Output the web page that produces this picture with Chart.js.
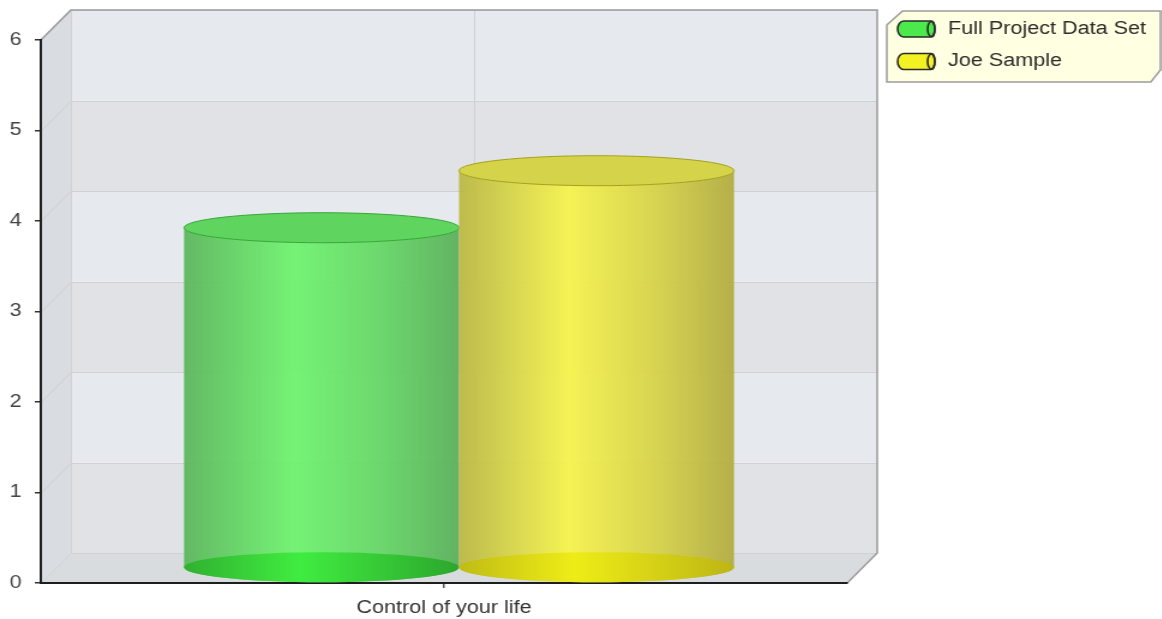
<!DOCTYPE html>
<html>
<head>
<meta charset="utf-8">
<title>Control of your life</title>
<script src="https://cdn.jsdelivr.net/npm/chart.js@4.4.1/dist/chart.umd.min.js"></script>
<style>
  html, body { margin: 0; padding: 0; background: #fff; overflow: hidden; }
  #wrap { width: 968px; height: 619px; transform: scaleX(1.2); transform-origin: 0 0; }
</style>
</head>
<body>
<div id="wrap"><canvas id="chart" width="968" height="619"></canvas></div>
<script>
// ---- data ----
const categories = ['Control of your life'];
const seriesNames = ['Full Project Data Set', 'Joe Sample'];
const fullProjectValues = [3.76];
const joeSampleValues = [4.39];
const yTicks = [0, 1, 2, 3, 4, 5, 6];

// ---- styling ----
const FONT = "'Liberation Sans', Arial, Helvetica, sans-serif";
const DX = 25;   // depth offset of the back wall, horizontal
const DY = 30;   // depth offset of the back wall, vertical
const ELLIPSE_RY = 15;

const palettes = [
  {
    base: ['rgba(44,176,44,0.92)', 'rgba(60,236,60,0.92)', 'rgba(40,166,40,0.92)'],
    body: ['rgba(90,182,90,0.93)', 'rgba(109,244,109,0.93)', 'rgba(100,214,100,0.93)', 'rgba(88,176,88,0.93)'],
    top: '#5fd45f', topLine: '#37a837', legend: '#4be94b'
  },
  {
    base: ['rgba(192,188,16,0.92)', 'rgba(238,236,18,0.92)', 'rgba(190,182,16,0.92)'],
    body: ['rgba(186,184,66,0.93)', 'rgba(246,244,74,0.93)', 'rgba(214,210,70,0.93)', 'rgba(178,172,62,0.93)'],
    top: '#d4d34a', topLine: '#a5a31c', legend: '#f2f222'
  }
];

// walls, floor and gridlines of the 3D box
const room3d = {
  id: 'room3d',
  beforeDraw(chart) {
    const { ctx, chartArea: a, scales: { x, y } } = chart;
    const L = a.left, R = a.right, T = a.top, B = a.bottom;
    ctx.save();
    // back wall, alternating bands
    for (let i = 0; i < yTicks.length - 1; i++) {
      const y0 = y.getPixelForValue(yTicks[i]) - DY;
      const y1 = y.getPixelForValue(yTicks[i + 1]) - DY;
      ctx.fillStyle = i % 2 ? '#e6e9ed' : '#e1e2e5';
      ctx.fillRect(L + DX, y1, R - L, y0 - y1);
    }
    // left side wall
    ctx.beginPath();
    ctx.moveTo(L, T); ctx.lineTo(L + DX, T - DY); ctx.lineTo(L + DX, B - DY); ctx.lineTo(L, B);
    ctx.closePath();
    ctx.fillStyle = '#d9dce0';
    ctx.fill();
    // floor
    ctx.beginPath();
    ctx.moveTo(L, B); ctx.lineTo(L + DX, B - DY); ctx.lineTo(R + DX, B - DY); ctx.lineTo(R, B);
    ctx.closePath();
    ctx.fillStyle = '#d9dcdf';
    ctx.fill();
    // gridlines across side wall and back wall
    ctx.lineWidth = 1;
    ctx.strokeStyle = '#cfd1d4';
    yTicks.forEach(v => {
      const py = Math.round(y.getPixelForValue(v)) + 0.5;
      ctx.beginPath();
      ctx.moveTo(L, py); ctx.lineTo(L + DX, py - DY); ctx.lineTo(R + DX, py - DY);
      ctx.stroke();
    });
    // vertical lines on back wall
    ctx.beginPath();
    ctx.moveTo(L + DX + 0.5, T - DY); ctx.lineTo(L + DX + 0.5, B - DY);
    x.ticks.forEach((t, i) => {
      const px = Math.round(x.getPixelForTick(i) + DX) + 0.5;
      ctx.moveTo(px, T - DY); ctx.lineTo(px, B - DY);
    });
    ctx.stroke();
    // outer outline
    ctx.strokeStyle = '#9b9b9b';
    ctx.lineWidth = 1.5;
    ctx.beginPath();
    ctx.moveTo(L, T); ctx.lineTo(L + DX, T - DY); ctx.lineTo(R + DX, T - DY);
    ctx.lineTo(R + DX, B - DY); ctx.lineTo(R, B);
    ctx.stroke();
    ctx.restore();
  }
};

function drawCylinder(ctx, cx, topY, baseY, rx, ry, pal) {
  const left = cx - rx, right = cx + rx;
  // body
  let g = ctx.createLinearGradient(left, 0, right, 0);
  g.addColorStop(0, pal.body[0]); g.addColorStop(0.4, pal.body[1]);
  g.addColorStop(0.72, pal.body[2]); g.addColorStop(1, pal.body[3]);
  ctx.beginPath();
  ctx.moveTo(left, topY);
  ctx.lineTo(left, baseY);
  ctx.ellipse(cx, baseY, rx, ry, 0, Math.PI, 0, true);
  ctx.lineTo(right, topY);
  ctx.ellipse(cx, topY, rx, ry, 0, 0, Math.PI, false);
  ctx.closePath();
  ctx.fillStyle = g;
  ctx.fill();
  // base ellipse, seen through the body
  g = ctx.createLinearGradient(left, 0, right, 0);
  g.addColorStop(0, pal.base[0]); g.addColorStop(0.42, pal.base[1]); g.addColorStop(1, pal.base[2]);
  ctx.beginPath();
  ctx.ellipse(cx, baseY, rx, ry, 0, 0, Math.PI * 2);
  ctx.fillStyle = g;
  ctx.fill();
  // top ellipse
  ctx.beginPath();
  ctx.ellipse(cx, topY, rx, ry, 0, 0, Math.PI * 2);
  ctx.fillStyle = pal.top;
  ctx.fill();
  ctx.lineWidth = 1;
  ctx.strokeStyle = pal.topLine;
  ctx.stroke();
}

// cylinders placed on the bar elements laid out by the category/linear scales
const cylinders = {
  id: 'cylinders',
  afterDatasetsDraw(chart) {
    const ctx = chart.ctx;
    ctx.save();
    chart.data.datasets.forEach((ds, di) => {
      const meta = chart.getDatasetMeta(di);
      meta.data.forEach(el => {
        const p = el.getProps(['x', 'y', 'base', 'width'], true);
        drawCylinder(ctx, p.x + DX / 2, p.y - DY / 2, p.base - DY / 2, p.width / 2, ELLIPSE_RY, palettes[di]);
      });
    });
    ctx.restore();
  }
};

// legend panel with chamfered corners and cylinder swatches
const legendPanel = {
  id: 'legendPanel',
  afterDraw(chart) {
    const ctx = chart.ctx;
    const l = 739, t = 11, r = 967, b = 82;
    ctx.save();
    ctx.beginPath();
    ctx.moveTo(l, t + 14); ctx.lineTo(l + 13, t); ctx.lineTo(r, t);
    ctx.lineTo(r, b - 12); ctx.lineTo(r - 8, b); ctx.lineTo(l, b);
    ctx.closePath();
    ctx.fillStyle = '#ffffe1';
    ctx.fill();
    ctx.lineWidth = 1.5;
    ctx.strokeStyle = '#9c9c9c';
    ctx.stroke();

    chart.data.datasets.forEach((ds, i) => {
      const cy = 29 + i * 32.5;
      const x0 = 748, x1 = 779, h = 16;
      ctx.beginPath();
      ctx.moveTo(x0 + 5, cy - h / 2);
      ctx.lineTo(x1 - 3, cy - h / 2);
      ctx.ellipse(x1 - 3, cy, 3, h / 2, 0, -Math.PI / 2, Math.PI / 2, false);
      ctx.lineTo(x0 + 5, cy + h / 2);
      ctx.ellipse(x0 + 5, cy, 5, h / 2, 0, Math.PI / 2, Math.PI * 1.5, false);
      ctx.closePath();
      ctx.fillStyle = palettes[i].legend;
      ctx.fill();
      ctx.lineWidth = 1.6;
      ctx.strokeStyle = '#2a2a2a';
      ctx.stroke();
      ctx.beginPath();
      ctx.ellipse(x1 - 3, cy, 3, h / 2 - 0.5, 0, 0, Math.PI * 2);
      ctx.stroke();

      ctx.fillStyle = '#2b2b2b';
      ctx.font = '18px ' + FONT;
      ctx.textBaseline = 'middle';
      ctx.textAlign = 'left';
      ctx.fillText(ds.label, 790, cy);
    });
    ctx.restore();
  }
};

new Chart(document.getElementById('chart'), {
  type: 'bar',
  data: {
    labels: categories,
    datasets: [
      { label: seriesNames[0], data: fullProjectValues, backgroundColor: 'rgba(0,0,0,0)', borderWidth: 0 },
      { label: seriesNames[1], data: joeSampleValues, backgroundColor: 'rgba(0,0,0,0)', borderWidth: 0 }
    ]
  },
  options: {
    responsive: false,
    animation: false,
    devicePixelRatio: 1,
    layout: { padding: { left: 0, right: 262, top: 40, bottom: 0 } },
    datasets: { bar: { categoryPercentage: 0.682, barPercentage: 1.0 } },
    plugins: { legend: { display: false }, tooltip: { enabled: false } },
    scales: {
      x: {
        type: 'category',
        offset: true,
        afterFit(scale) { scale.height = 36; },
        grid: { offset: false, drawOnChartArea: false, tickLength: 5, color: '#555', lineWidth: 1.5 },
        border: { display: true, color: '#1e1e1e', width: 2 },
        ticks: { color: '#333', font: { family: FONT, size: 18 }, padding: 9, maxRotation: 0 }
      },
      y: {
        min: 0,
        max: 6,
        afterFit(scale) { scale.width = 34; },
        afterBuildTicks(scale) { scale.ticks = yTicks.map(v => ({ value: v })); },
        grid: { drawOnChartArea: false, tickLength: 5, color: '#333', lineWidth: 1.5 },
        border: { display: true, color: '#1e1e1e', width: 2 },
        ticks: { color: '#444', font: { family: FONT, size: 18 }, padding: 11 }
      }
    }
  },
  plugins: [room3d, cylinders, legendPanel]
});
</script>
</body>
</html>
